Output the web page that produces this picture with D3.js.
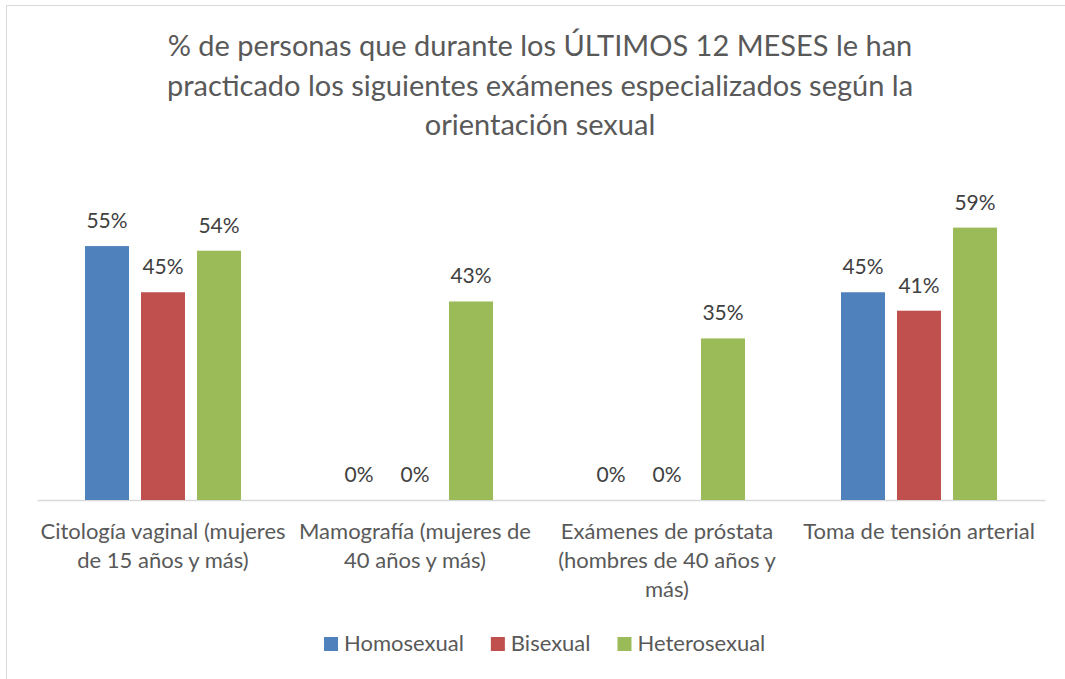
<!DOCTYPE html>
<html>
<head>
<meta charset="utf-8">
<script src="https://cdn.jsdelivr.net/npm/d3@7"></script>
<style>
  body { margin: 0; background: #fff; }
  svg { display: block; font-family: Lato, "Open Sans", sans-serif; }
</style>
</head>
<body>
<svg id="chart" width="1065" height="679"></svg>
<script>
let titleLines = [
    "% de personas que durante los ÚLTIMOS 12 MESES le han",
    "practicado los siguientes exámenes especializados según la",
    "orientación sexual"
];
let categories = ["Citología", "Mamografía", "Próstata", "Tensión"];
let categoryLabels = [
    ["Citología vaginal (mujeres", "de 15 años y más)"],
    ["Mamografía (mujeres de", "40 años y más)"],
    ["Exámenes de próstata", "(hombres de 40 años y", "más)"],
    ["Toma de tensión arterial"]
];
let seriesNames = ["Homosexual", "Bisexual", "Heterosexual"];
let seriesColors = ["#4f81bd", "#c0504d", "#9bbb59"];
let homosexual = [0.55, 0, 0, 0.45];
let bisexual = [0.45, 0, 0, 0.41];
let heterosexual = [0.54, 0.43, 0.35, 0.59];

let seriesValues = [homosexual, bisexual, heterosexual];

let svg = d3.select("#chart");

// chart border (only top/left visible in the picture)
svg.append("rect")
    .attr("x", 6.5).attr("y", 5.5)
    .attr("width", 1070).attr("height", 690)
    .attr("fill", "none")
    .attr("stroke", "#d9d9d9");

// title
svg.append("g").selectAll("text")
    .data(titleLines)
    .enter().append("text")
    .attr("x", 540)
    .attr("y", (d, i) => 56 + i * 39.5)
    .attr("text-anchor", "middle")
    .attr("fill", "#595959")
    .style("font-size", "29px")
    .text(d => d);

let x0 = d3.scaleBand()
    .domain(categories)
    .range([37, 1045])
    .padding(0);

let x1 = d3.scaleBand()
    .domain(seriesNames)
    .range([0, x0.bandwidth()])
    .paddingInner(0.2143)
    .paddingOuter(0.857);

let y = d3.scaleLinear()
    .domain([0, 0.6])
    .range([500, 223]);

// axis line
let xAxis = d3.axisBottom(x0).tickSize(0).tickFormat("");
let axisG = svg.append("g")
    .attr("transform", "translate(0,500)")
    .call(xAxis);
axisG.select(".domain").attr("stroke", "#d9d9d9").attr("stroke-width", 1.5);

let groups = svg.append("g").selectAll("g")
    .data(categories)
    .enter().append("g")
    .attr("transform", d => "translate(" + x0(d) + ",0)");

let cells = groups.selectAll("g")
    .data((c, ci) => seriesNames.map((s, si) => ({ series: s, si: si, value: seriesValues[si][ci] })))
    .enter().append("g");

cells.append("rect")
    .attr("class", "bar")
    .attr("x", d => x1(d.series))
    .attr("y", d => y(d.value))
    .attr("width", x1.bandwidth())
    .attr("height", d => y(0) - y(d.value))
    .attr("fill", d => seriesColors[d.si]);

cells.append("text")
    .attr("x", d => x1(d.series) + x1.bandwidth() / 2)
    .attr("y", d => y(d.value) - 18)
    .attr("text-anchor", "middle")
    .attr("fill", "#404040")
    .style("font-size", "21px")
    .text(d => Math.round(d.value * 100) + "%");

// category labels
let catG = svg.append("g").selectAll("text")
    .data(categories)
    .enter().append("text")
    .attr("text-anchor", "middle")
    .attr("fill", "#595959")
    .style("font-size", "22px");

catG.each(function(c, i) {
    let t = d3.select(this);
    categoryLabels[i].forEach((line, li) => {
        t.append("tspan")
            .attr("x", x0(c) + x0.bandwidth() / 2)
            .attr("y", 539 + li * 29)
            .text(line);
    });
});

// legend
let legend = svg.append("g");
let lx = 324;
seriesNames.forEach((s, i) => {
    legend.append("rect")
        .attr("x", lx).attr("y", 637)
        .attr("width", 14).attr("height", 14)
        .attr("fill", seriesColors[i]);
    let t = legend.append("text")
        .attr("x", lx + 20).attr("y", 651)
        .attr("fill", "#595959")
        .style("font-size", "22px")
        .text(s);
    lx += 20 + t.node().getComputedTextLength() + 27;
});
</script>
</body>
</html>
